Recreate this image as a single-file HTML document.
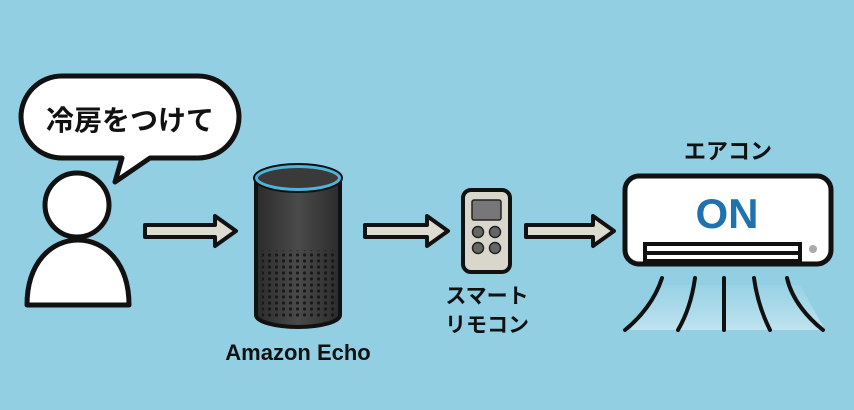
<!DOCTYPE html>
<html><head><meta charset="utf-8"><style>
html,body{margin:0;padding:0;}
body{width:854px;height:405px;background:#92cfe3;overflow:hidden;font-family:"Liberation Sans","Noto Sans CJK JP",sans-serif;}
</style></head><body>
<svg width="854" height="405" viewBox="0 0 854 405" xmlns="http://www.w3.org/2000/svg">
<defs>
<linearGradient id="eg" x1="0" x2="1"><stop offset="0" stop-color="#2b2b2b"/><stop offset="0.5" stop-color="#4a4a4a"/><stop offset="1" stop-color="#2b2b2b"/></linearGradient>
<pattern id="dots" width="7" height="6" patternUnits="userSpaceOnUse"><circle cx="3.5" cy="3" r="1.6" fill="#151515"/></pattern>
<linearGradient id="air" x1="0" y1="0" x2="0" y2="1"><stop offset="0" stop-color="#cfeaf3" stop-opacity="0.2"/><stop offset="1" stop-color="#e6f5fa" stop-opacity="0.9"/></linearGradient>
</defs>
<!-- bubble -->
<path d="M62,76 H198 A40,40 0 0 1 198,158 H150 L115,182 L122,158 H62 A40,40 0 0 1 62,76 Z" fill="#fff" stroke="#111" stroke-width="5" stroke-linejoin="round"/>
<text x="130" y="130" font-size="28" font-weight="bold" text-anchor="middle" fill="#111">冷房をつけて</text>
<!-- person -->
<circle cx="77" cy="205" r="32" fill="#fff" stroke="#111" stroke-width="5"/>
<path d="M27,305 C27,262 52,240 78,240 C104,240 129,262 129,305 Z" fill="#fff" stroke="#111" stroke-width="5" stroke-linejoin="round"/>
<!-- arrows -->
<g fill="#dedbd0" stroke="#111" stroke-width="4" stroke-linejoin="round">
<path d="M145,225 H215 V216 L236,231 L215,246 V237 H145 Z"/>
<path d="M365,225 H427 V216 L448,231 L427,246 V237 H365 Z"/>
<path d="M526,225 H593 V216 L614,231 L593,246 V237 H526 Z"/>
</g>
<!-- echo -->
<path d="M256,178 V315 A42,12 0 0 0 340,315 V178 Z" fill="url(#eg)" stroke="#111" stroke-width="4"/>
<rect x="262" y="250" width="72" height="68" fill="url(#dots)" opacity="0.9"/>
<ellipse cx="298" cy="178" rx="42" ry="12" fill="#3a3a3a" stroke="#4fb4d8" stroke-width="4"/>
<ellipse cx="298" cy="178" rx="44" ry="14" fill="none" stroke="#111" stroke-width="2"/>
<text x="298" y="360" font-size="22" font-weight="bold" text-anchor="middle" fill="#111">Amazon Echo</text>
<!-- remote -->
<rect x="463" y="190" width="47" height="82" rx="8" fill="#d9d6cc" stroke="#111" stroke-width="4"/>
<rect x="472" y="200" width="29" height="20" rx="2" fill="#777" stroke="#222" stroke-width="1.5"/>
<g fill="#666" stroke="#222" stroke-width="1.5">
<circle cx="478" cy="232" r="5.5"/><circle cx="495" cy="232" r="5.5"/>
<circle cx="478" cy="248" r="5.5"/><circle cx="495" cy="248" r="5.5"/>
</g>
<text x="487" y="303" font-size="21" font-weight="bold" text-anchor="middle" fill="#111">スマート</text>
<text x="487" y="332" font-size="21" font-weight="bold" text-anchor="middle" fill="#111">リモコン</text>
<!-- aircon -->
<text x="728" y="159" font-size="22" font-weight="bold" text-anchor="middle" fill="#111">エアコン</text>
<rect x="625" y="176" width="206" height="88" rx="14" fill="#fff" stroke="#111" stroke-width="5"/>
<text x="727" y="228" font-size="42" font-weight="bold" text-anchor="middle" fill="#1f72ad">ON</text>
<rect x="645" y="244" width="155" height="17" fill="#fff" stroke="#111" stroke-width="4"/>
<line x1="647" y1="253" x2="798" y2="253" stroke="#111" stroke-width="4"/>
<circle cx="813" cy="249" r="4" fill="#aaa"/>
<path d="M630,330 L660,285 H800 L825,330 Z" fill="url(#air)" opacity="0.6"/>
<g fill="none" stroke="#111" stroke-width="4" stroke-linecap="round">
<path d="M662,278 C655,300 640,318 625,330"/>
<path d="M695,278 C692,300 685,318 678,330"/>
<path d="M724,278 V330"/>
<path d="M754,278 C757,300 764,318 770,330"/>
<path d="M787,278 C792,300 808,318 823,330"/>
</g>
</svg>
</body></html>
